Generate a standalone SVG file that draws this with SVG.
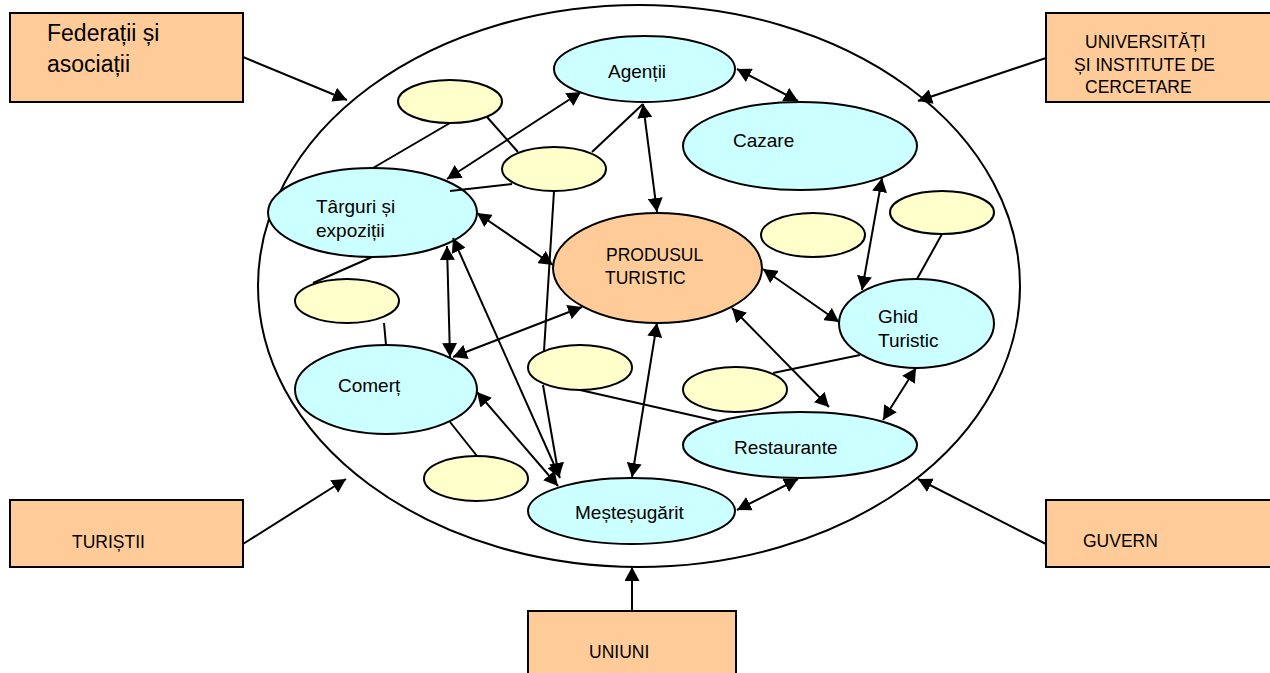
<svg xmlns="http://www.w3.org/2000/svg" width="1270" height="673" viewBox="0 0 1270 673">
<style>
.box{fill:#FFCC99;stroke:#000;stroke-width:2}
.cy{fill:#CCFFFF;stroke:#000;stroke-width:2}
.ye{fill:#FFFFCC;stroke:#000;stroke-width:2}
.pr{fill:#FFCC99;stroke:#000;stroke-width:2}
.t{font-family:"Liberation Sans",Arial,sans-serif;font-size:19px;fill:#000}
.c{font-family:"Liberation Sans",Arial,sans-serif;font-size:17.5px;fill:#000}
.big{font-family:"Liberation Sans",Arial,sans-serif;font-size:23px;fill:#000}
#connectors line{stroke:#000;stroke-width:2;fill:none}
#connectors .a1{marker-end:url(#ah)}
#connectors .a2{marker-start:url(#ah);marker-end:url(#ah)}
</style>
<defs>
<marker id="ah" markerUnits="userSpaceOnUse" markerWidth="15" markerHeight="15" refX="14" refY="7.5" orient="auto-start-reverse" viewBox="0 0 15 15">
<path d="M0,0 L14,7.5 L0,15 z" fill="#000"/>
</marker>
</defs>
<rect width="1270" height="673" fill="#fff"/>
<g id="system"><ellipse cx="639" cy="286" rx="381" ry="281" fill="none" stroke="#000" stroke-width="2"/></g>

<g id="federatii"><rect class="box" x="10" y="13" width="233" height="89"/><text class="big" x="47" y="41">Federații și</text><text class="big" x="47" y="72">asociații</text></g>
<g id="universitati"><rect class="box" x="1046" y="13" width="240" height="89"/><text class="c" x="1085" y="48">UNIVERSITĂȚI</text><text class="c" x="1074" y="71">ȘI INSTITUTE DE</text><text class="c" x="1085" y="93">CERCETARE</text></g>
<g id="turistii"><rect class="box" x="10" y="500" width="233" height="67"/><text class="c" x="72" y="548">TURIȘTII</text></g>
<g id="guvern"><rect class="box" x="1046" y="500" width="240" height="67"/><text class="c" x="1083" y="547">GUVERN</text></g>
<g id="uniuni"><rect class="box" x="528" y="611" width="208" height="80"/><text class="c" x="589" y="658">UNIUNI</text></g>

<g id="agentii"><ellipse class="cy" cx="644.5" cy="69" rx="90.5" ry="33"/><text class="t" x="608" y="78">Agenții</text></g>
<g id="cazare"><ellipse class="cy" cx="800" cy="146" rx="117" ry="44"/><text class="t" x="733" y="147">Cazare</text></g>
<g id="produsul"><ellipse class="pr" cx="657.5" cy="268" rx="104.5" ry="55"/><text class="c" x="606" y="261">PRODUSUL</text><text class="c" x="605" y="284">TURISTIC</text></g>
<g id="targuri"><ellipse class="cy" cx="372.5" cy="212.5" rx="104.5" ry="44.5"/><text class="t" x="316" y="213">Târguri și</text><text class="t" x="316" y="237">expoziții</text></g>
<g id="comert"><ellipse class="cy" cx="386" cy="389.5" rx="91" ry="44.5"/><text class="t" x="338" y="392">Comerț</text></g>
<g id="mestesugarit"><ellipse class="cy" cx="631.5" cy="511" rx="103.5" ry="33"/><text class="t" x="575" y="519">Meșteșugărit</text></g>
<g id="restaurante"><ellipse class="cy" cx="800" cy="445" rx="117" ry="33"/><text class="t" x="734" y="454">Restaurante</text></g>
<g id="ghid"><ellipse class="cy" cx="916.5" cy="323.5" rx="77.5" ry="44.5"/><text class="t" x="878" y="323">Ghid</text><text class="t" x="878" y="347">Turistic</text></g>

<g id="y1"><ellipse class="ye" cx="450" cy="101.5" rx="52" ry="21.5"/></g>
<g id="y2"><ellipse class="ye" cx="554" cy="169" rx="52" ry="22"/></g>
<g id="y3"><ellipse class="ye" cx="813" cy="235" rx="52" ry="22"/></g>
<g id="y4"><ellipse class="ye" cx="942" cy="212.5" rx="52" ry="21.5"/></g>
<g id="y5"><ellipse class="ye" cx="347" cy="301" rx="52" ry="22"/></g>
<g id="y6"><ellipse class="ye" cx="580" cy="367.5" rx="52" ry="22.5"/></g>
<g id="y7"><ellipse class="ye" cx="735" cy="389.5" rx="52" ry="22.5"/></g>
<g id="y8"><ellipse class="ye" cx="476" cy="478.5" rx="52" ry="22.5"/></g>

<g id="connectors">
<line class="a1" x1="243" y1="57" x2="347" y2="100"/>
<line class="a1" x1="1046" y1="58" x2="918" y2="101"/>
<line class="a1" x1="243" y1="544" x2="346" y2="479"/>
<line class="a1" x1="1046" y1="544" x2="918" y2="479"/>
<line class="a1" x1="632" y1="611" x2="632" y2="567"/>

<line x1="450" y1="123" x2="373" y2="168"/>
<line x1="487" y1="117" x2="518" y2="152"/>
<line x1="592" y1="152" x2="643" y2="104"/>
<line x1="512" y1="184" x2="450" y2="191"/>
<line x1="554" y1="191" x2="544" y2="351"/>
<line x1="860" y1="355" x2="773" y2="373"/>
<line x1="580" y1="390" x2="717" y2="421"/>
<line x1="942" y1="234" x2="917" y2="279"/>
<line x1="372" y1="257" x2="313" y2="283"/>
<line x1="384" y1="323" x2="386" y2="345"/>
<line x1="450" y1="422" x2="477" y2="456"/>

<line class="a1" x1="543" y1="385" x2="559" y2="477"/>
<line class="a2" x1="453" y1="238" x2="560" y2="478"/>
<line class="a2" x1="447" y1="246" x2="450" y2="357"/>
<line class="a2" x1="453" y1="357" x2="582" y2="307"/>
<line class="a2" x1="477" y1="392" x2="558" y2="486"/>
<line class="a2" x1="581" y1="92" x2="447" y2="179"/>
<line class="a2" x1="643" y1="104" x2="657" y2="212"/>
<line class="a2" x1="477" y1="213" x2="553" y2="265"/>
<line class="a2" x1="737" y1="69" x2="798" y2="101"/>
<line class="a2" x1="882" y1="178" x2="862" y2="290"/>
<line class="a2" x1="763" y1="269" x2="839" y2="322"/>
<line class="a2" x1="732" y1="308" x2="829" y2="407"/>
<line class="a2" x1="916" y1="368" x2="883" y2="420"/>
<line class="a2" x1="798" y1="479" x2="737" y2="510"/>
<line class="a2" x1="657" y1="323" x2="632" y2="477"/>
</g>
</svg>
